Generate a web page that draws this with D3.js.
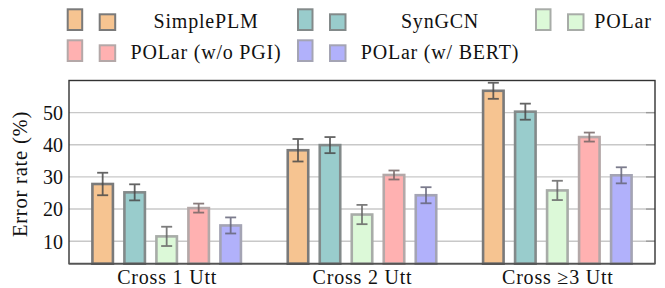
<!DOCTYPE html>
<html><head><meta charset="utf-8">
<script src="https://cdn.jsdelivr.net/npm/d3@7"></script>
<style>body{margin:0;background:#fff}svg{display:block}</style>
</head><body>
<svg id="c" width="665" height="288"></svg>
<script>
const categories = ["Cross 1 Utt", "Cross 2 Utt", "Cross \u22653 Utt"];
const series = ["SimplePLM", "SynGCN", "POLar", "POLar (w/o PGI)", "POLar (w/ BERT)"];
const valSimplePLM = [27.8, 38.3, 56.8];
const valSynGCN    = [25.2, 39.9, 50.3];
const valPOLar     = [11.5, 18.3, 25.8];
const valNoPGI     = [20.3, 30.6, 42.4];
const valBERT      = [14.9, 24.3, 30.5];
const errSimplePLM = [3.5, 3.5, 2.5];
const errSynGCN    = [2.5, 2.5, 2.5];
const errPOLar     = [3.0, 3.0, 3.0];
const errNoPGI     = [1.4, 1.4, 1.4];
const errBERT      = [2.5, 2.5, 2.5];
const yTicks = [10, 20, 30, 40, 50];

const values = [valSimplePLM, valSynGCN, valPOLar, valNoPGI, valBERT];
const errors = [errSimplePLM, errSynGCN, errPOLar, errNoPGI, errBERT];
const fills   = ["#f6c491", "#99cccc", "#dcf9d8", "#ffb1b1", "#b1b1fb"];
const strokes = ["#7a7a7a", "#838a8a", "#a8aca8", "#b4a8a8", "#a4a4b4"];
const errCol  = ["#4a4a4a", "#4a4a4a", "#666666", "#766666", "#66667a"];
const FONT = "Liberation Serif, DejaVu Serif, Times New Roman, serif";

const svg = d3.select("#c");
const L = 69, R = 655, T = 80.5, B = 263.7;
const x = d3.scaleLinear().domain([-0.5, categories.length - 0.5]).range([L, R]);
const y = d3.scaleLinear().domain([3, 60]).range([B, T]);
const off = d3.scaleBand().domain(series).range([-80, 80]);
const bw = 20.5;

// grid
svg.append("g").selectAll("line").data(yTicks).join("line")
  .attr("x1", L).attr("x2", R).attr("y1", d => y(d)).attr("y2", d => y(d))
  .attr("stroke", "#c8c8c8").attr("stroke-width", 1.4);
// right-side inner ticks
svg.append("g").selectAll("line").data(yTicks).join("line")
  .attr("x1", R - 9).attr("x2", R).attr("y1", d => y(d)).attr("y2", d => y(d))
  .attr("stroke", "#9a9a9a").attr("stroke-width", 1.4);

// bars
const data = [];
series.forEach((s, i) => categories.forEach((c, j) => data.push({s, i, j, v: values[i][j], e: errors[i][j]})));
const cx = d => x(d.j) + off(d.s) + off.bandwidth() / 2;
svg.append("g").selectAll("rect").data(data).join("rect")
  .attr("x", d => cx(d) - bw / 2).attr("width", bw)
  .attr("y", d => y(d.v)).attr("height", d => B - y(d.v))
  .attr("fill", d => fills[d.i]).attr("stroke", d => strokes[d.i]).attr("stroke-width", 2.6);
// error bars
const eg = svg.append("g").selectAll("g").data(data).join("g")
  .attr("stroke", d => errCol[d.i]).attr("stroke-width", 1.8).attr("opacity", 0.85);
eg.append("line").attr("x1", cx).attr("x2", cx).attr("y1", d => y(d.v + d.e)).attr("y2", d => y(d.v - d.e));
eg.append("line").attr("x1", d => cx(d) - 5.5).attr("x2", d => cx(d) + 5.5).attr("y1", d => y(d.v + d.e)).attr("y2", d => y(d.v + d.e));
eg.append("line").attr("x1", d => cx(d) - 5.5).attr("x2", d => cx(d) + 5.5).attr("y1", d => y(d.v - d.e)).attr("y2", d => y(d.v - d.e));

// axis box
svg.append("rect").attr("x", L).attr("y", T).attr("width", R - L).attr("height", B - T)
  .attr("fill", "none").attr("stroke", "#333").attr("stroke-width", 1.4);
svg.append("line").attr("x1", L).attr("x2", R).attr("y1", B).attr("y2", B).attr("stroke", "#555").attr("stroke-width", 1.8);

// y tick labels via axis
const yAxis = d3.axisLeft(y).tickValues(yTicks).tickSize(0).tickPadding(6);
const ya = svg.append("g").attr("transform", `translate(${L},0)`).call(yAxis).attr("font-family", null);
ya.select(".domain").remove();
ya.selectAll("text").style("font-family", FONT).style("font-size", "20px").attr("fill", "#111").attr("dy", "0.34em");

// x labels via axis
const xAxis = d3.axisBottom(x).tickValues(categories.map((c, j) => j)).tickFormat(j => categories[j]).tickSize(0).tickPadding(0);
const xa = svg.append("g").attr("transform", `translate(0,${B})`).call(xAxis).attr("font-family", null);
xa.select(".domain").remove();
xa.selectAll("text").style("font-family", FONT).style("font-size", "20px").style("letter-spacing", "0.8px").attr("fill", "#111").attr("dy", null).attr("y", 20.5);

// y label
svg.append("text").attr("transform", "translate(27,174) rotate(-90)").attr("text-anchor", "middle")
  .style("font-family", FONT).style("font-size", "20.5px").style("letter-spacing", "0.8px").attr("fill", "#111").text("Error rate (%)");

// legend
const colX = [66.7, 297, 535], rowY = [8.3, 39.3], textCx = [206, 440, 623];
series.forEach((s, i) => {
  const col = i % 3, row = Math.floor(i / 3);
  const g = svg.append("g");
  const x0 = colX[col], y0 = rowY[row];
  g.append("rect").attr("x", x0 + 1).attr("y", y0 + 1).attr("width", 14.5).attr("height", 20.7)
    .attr("fill", fills[i]).attr("stroke", strokes[i]).attr("stroke-width", 2);
  g.append("rect").attr("x", x0 + 33).attr("y", y0 + 6).attr("width", 15.5).attr("height", 15.7)
    .attr("fill", fills[i]).attr("stroke", strokes[i]).attr("stroke-width", 2);
  g.append("text").attr("x", textCx[col]).attr("y", y0 + 20).attr("text-anchor", "middle")
    .style("font-family", FONT).style("font-size", "20px").style("letter-spacing", "0.8px").attr("fill", "#111").text(s);
});
</script>
</body></html>
